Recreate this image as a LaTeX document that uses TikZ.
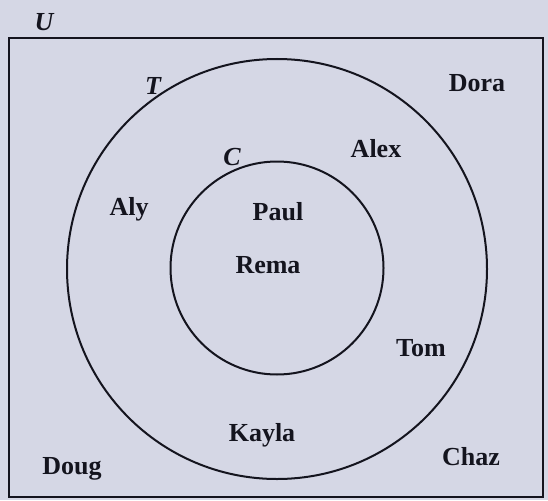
\documentclass[tikz,border=0pt]{standalone}
\usepackage{fontspec}
\setmainfont{Liberation Serif}
\usepackage{tikz}

\definecolor{paper}{RGB}{213,215,229}
\definecolor{ink}{RGB}{20,20,30}

\begin{document}
\begin{tikzpicture}[x=1pt,y=-1pt,
    person/.style={anchor=base,inner sep=0pt,text=ink,font=\fontsize{26}{26}\selectfont\bfseries},
    setlabel/.style={anchor=base,inner sep=0pt,text=ink,font=\fontsize{26}{26}\selectfont\bfseries\itshape},
    ring/.style={circle,draw=ink,line width=2pt,inner sep=0pt}]
    \useasboundingbox (0,0) rectangle (548,500);
    \fill[paper] (0,0) rectangle (548,500);
    \draw[ink,line width=2.4pt] (9,38) rectangle (543,497);
    \node[ring,minimum size=420pt] (setT) at (277,269) {};
    \node[ring,minimum size=213pt] (setC) at (277,268) {};
    \node[setlabel] (labU) at (44,31) {U};
    \node[setlabel] (labT) at (153,95) {T};
    \node[setlabel] (labC) at (232,165) {C};
    \node[person] (dora) at (477,92) {Dora};
    \node[person] (alex) at (376,157) {Alex};
    \node[person] (aly) at (129,215) {Aly};
    \node[person] (paul) at (278,220) {Paul};
    \node[person] (rema) at (268,273) {Rema};
    \node[person] (tom) at (421,356) {Tom};
    \node[person] (kayla) at (262,441) {Kayla};
    \node[person] (doug) at (72,474) {Doug};
    \node[person] (chaz) at (471,465) {Chaz};
\end{tikzpicture}
\end{document}
